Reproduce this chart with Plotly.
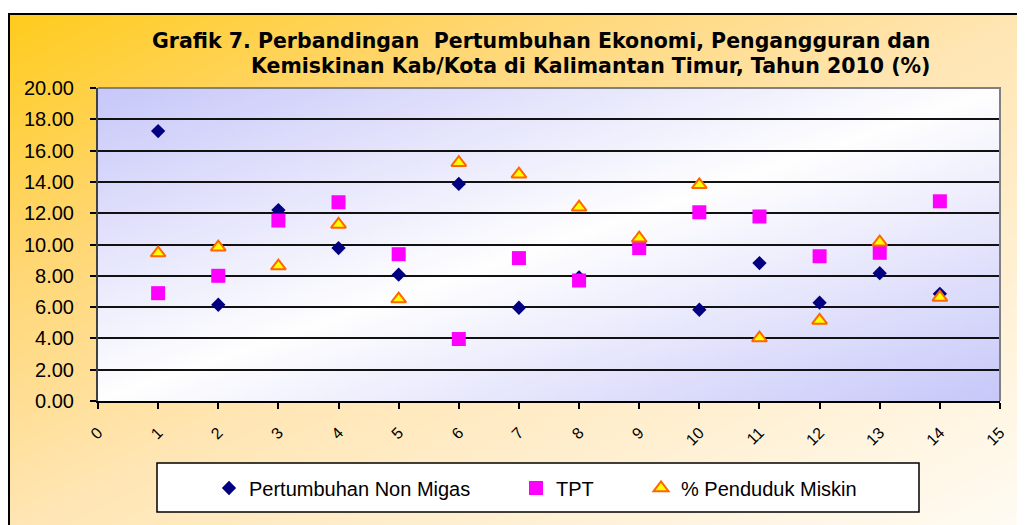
import base64, struct, zlib
import numpy as np
import plotly.graph_objects as go

# data (kab/kota index 1..14)
kabkota = list(range(1, 15))
non_migas = [17.25, 6.15, 12.2, 9.77, 8.07, 13.87, 5.96, 7.9, 9.8, 5.83, 8.81, 6.28, 8.17, 6.85]
tpt = [6.89, 8.0, 11.53, 12.7, 9.38, 3.96, 9.13, 7.7, 9.77, 12.06, 11.79, 9.25, 9.47, 12.76]
miskin = [9.45, 9.83, 8.62, 11.28, 6.51, 15.23, 14.49, 12.38, 10.4, 13.81, 4.02, 5.15, 10.15, 6.62]

nama = ['Pertumbuhan Non Migas', 'TPT', '% Penduduk Miskin']
judul1 = 'Grafik 7. Perbandingan  Pertumbuhan Ekonomi, Pengangguran dan'
judul2 = 'Kemiskinan Kab/Kota di Kalimantan Timur, Tahun 2010 (%)'

FONT = 'Liberation Sans, Arial, sans-serif'
FONT_JUDUL = 'DejaVu Sans, Liberation Sans, sans-serif'


def png_uri(rgb):
    # tiny png writer so the gradients can be used as layout images
    h, w, _ = rgb.shape
    raw = b''.join(b'\x00' + row.tobytes() for row in rgb)

    def chunk(tag, data):
        return struct.pack('>I', len(data)) + tag + data + struct.pack('>I', zlib.crc32(tag + data) & 0xffffffff)

    png = b'\x89PNG\r\n\x1a\n'
    png += chunk(b'IHDR', struct.pack('>IIBBBBB', w, h, 8, 2, 0, 0, 0))
    png += chunk(b'IDAT', zlib.compress(raw))
    png += chunk(b'IEND', b'')
    return 'data:image/png;base64,' + base64.b64encode(png).decode()


def gradient(w, h, stops, cols):
    u = np.linspace(0, 1, w)[None, :]
    v = np.linspace(0, 1, h)[:, None]
    t = (u + v) / 2
    out = np.zeros((h, w, 3), dtype=np.uint8)
    for c in range(3):
        out[:, :, c] = np.interp(t, stops, [col[c] for col in cols]).astype(np.uint8)
    return out


bg_luar = gradient(256, 128, [0, 0.25, 0.5, 1],
                   [(255, 204, 30), (255, 215, 115), (255, 230, 180), (255, 252, 245)])
bg_plot = gradient(256, 128, [0, 0.5, 1],
                   [(200, 200, 250), (255, 255, 255), (200, 200, 250)])

fig = go.Figure()

fig.add_trace(go.Scatter(x=kabkota, y=non_migas, mode='markers', name=nama[0],
                         marker=dict(symbol='diamond', size=11, color='#000080'),
                         legend='legend', showlegend=True))
fig.add_trace(go.Scatter(x=kabkota, y=tpt, mode='markers', name=nama[1],
                         marker=dict(symbol='square', size=14, color='#FF00FF'),
                         legend='legend2', showlegend=True))
fig.add_trace(go.Scatter(x=kabkota, y=miskin, mode='markers', name=nama[2],
                         marker=dict(symbol='triangle-up', size=13, color='#FFFF00',
                                     line=dict(color='#FF6600', width=2)),
                         legend='legend3', showlegend=True))

# pixel (screen) -> paper helpers; plot area is 98..1000 x, 88..401 y on screen
def px(x):
    return (x - 98) / 902.0

def py(y):
    return (401 - y) / 313.0

leg = dict(orientation='h', xanchor='left', yanchor='middle', y=py(488),
           bgcolor='rgba(0,0,0,0)', font=dict(family=FONT, size=20, color='black'))

# the page body adds an 8px margin, so the figure itself is 8px smaller
fig.update_layout(
    width=1017, height=517, autosize=False, showlegend=True,
    margin=dict(l=90, r=25, t=80, b=124),
    paper_bgcolor='white', plot_bgcolor='rgba(0,0,0,0)',
    font=dict(family=FONT, color='black'),
    legend=dict(leg, x=px(209)),
    legend2=dict(leg, x=px(516)),
    legend3=dict(leg, x=px(641)),
    images=[
        dict(source=png_uri(bg_luar), xref='paper', yref='paper',
             x=px(8), y=py(14), sizex=px(1030) - px(8), sizey=py(14) - py(530),
             xanchor='left', yanchor='top', sizing='stretch', layer='below'),
        dict(source=png_uri(bg_plot), xref='paper', yref='paper',
             x=0, y=1, sizex=1, sizey=1,
             xanchor='left', yanchor='top', sizing='stretch', layer='below'),
    ],
    shapes=[
        # chart area border
        dict(type='rect', xref='paper', yref='paper', x0=px(9), x1=px(1040),
             y0=py(540), y1=py(14), line=dict(color='black', width=2)),
        # legend box
        dict(type='rect', xref='paper', yref='paper', x0=px(157), x1=px(919),
             y0=py(512), y1=py(463), fillcolor='white', line=dict(color='black', width=1.5),
             layer='below'),
        # grey frame top/right of plot area
        dict(type='path', xref='paper', yref='paper', path='M 0,1 L 1,1 L 1,0',
             line=dict(color='#808080', width=2), layer='above'),
    ],
    annotations=[
        dict(text='<b>' + judul1 + '</b>', xref='paper', yref='paper', x=px(150), y=py(41),
             xanchor='left', yanchor='middle', showarrow=False,
             font=dict(family=FONT_JUDUL, size=20.5, color='black')),
        dict(text='<b>' + judul2 + '</b>', xref='paper', yref='paper', x=px(249), y=py(66),
             xanchor='left', yanchor='middle', showarrow=False,
             font=dict(family=FONT_JUDUL, size=20.5, color='black')),
    ],
)

fig.update_xaxes(range=[0, 15], dtick=1, tick0=0, showgrid=False, zeroline=False,
                 showline=True, linecolor='black', linewidth=2,
                 ticks='outside', ticklen=6, tickwidth=2, tickcolor='black',
                 tickangle=-45, ticklabelstandoff=8,
                 tickfont=dict(family=FONT, size=16, color='black'))
fig.update_yaxes(range=[0, 20], dtick=2, tick0=0, tickformat='.2f',
                 showgrid=True, gridcolor='#111111', gridwidth=2, zeroline=False,
                 showline=True, linecolor='#404040', linewidth=2,
                 ticks='outside', ticklen=6, tickwidth=2, tickcolor='black',
                 ticklabelstandoff=12,
                 tickfont=dict(family=FONT, size=20, color='black'))

fig.write_html('out.html')
